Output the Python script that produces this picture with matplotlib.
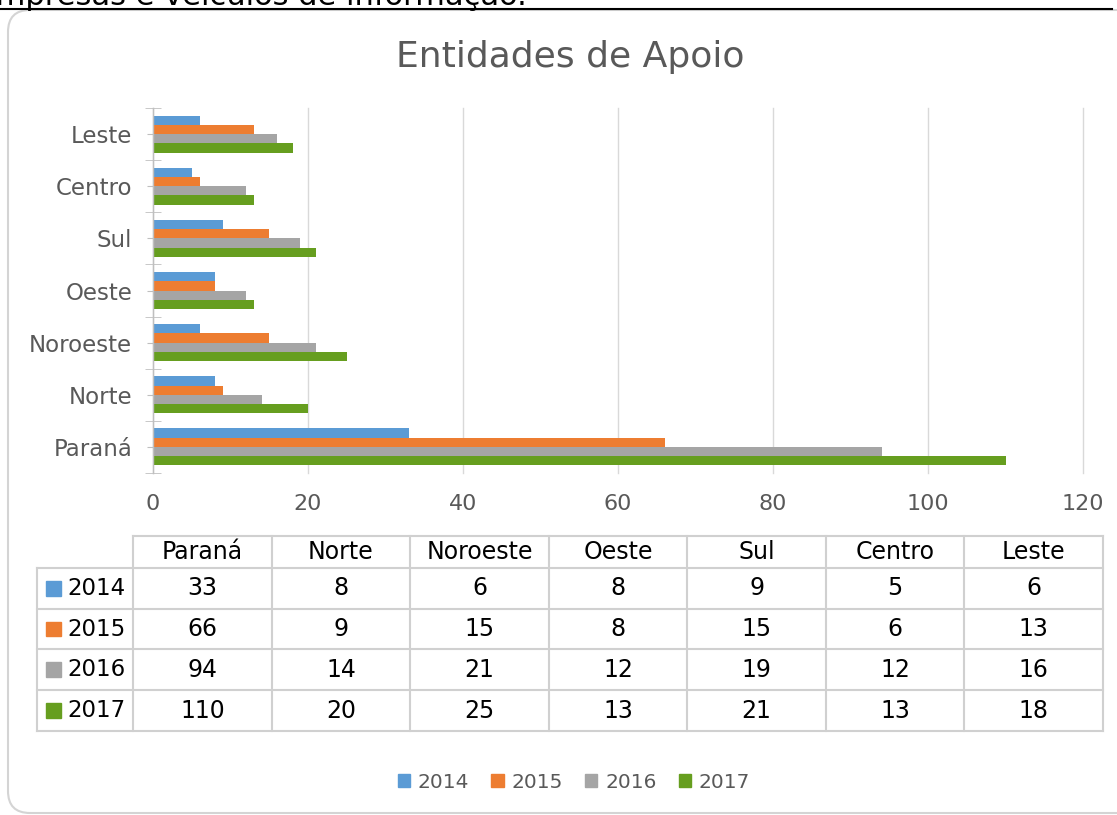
import matplotlib
matplotlib.use("Agg")
import matplotlib.pyplot as plt
from matplotlib.patches import FancyBboxPatch, Patch, Rectangle
from matplotlib.lines import Line2D
from matplotlib.transforms import IdentityTransform
import numpy as np

regions = ["Paraná", "Norte", "Noroeste", "Oeste", "Sul", "Centro", "Leste"]
years = ["2014", "2015", "2016", "2017"]
v2014 = [33, 8, 6, 8, 9, 5, 6]
v2015 = [66, 9, 15, 8, 15, 6, 13]
v2016 = [94, 14, 21, 12, 19, 12, 16]
v2017 = [110, 20, 25, 13, 21, 13, 18]
xticks = [0, 20, 40, 60, 80, 100, 120]

colors = ["#5B9BD5", "#ED7D31", "#A5A5A5", "#669E1F"]
GRAY_TXT = "#595959"
W, H = 1117, 815


def box(x0, y0, x1, y1):
    # pixel box (origin top-left) -> figure fraction rect
    return [x0 / W, 1 - y1 / H, (x1 - x0) / W, (y1 - y0) / H]


plt.rcParams['font.family'] = 'DejaVu Sans'
fig = plt.figure(figsize=(W / 100, H / 100), dpi=100)

# bit of the page text above the chart (cut off at the top, as in the source)
fig.text(527 / W, 1 - 5 / H, "empresas e veículos de informação.", ha="right",
         va="baseline", fontsize=22, color="black")
fig.add_artist(Line2D([0, 1112 / W], [1 - 8.5 / H] * 2, color="black", lw=1.5))

# rounded chart frame (display pixels, origin bottom-left)
frame = FancyBboxPatch((8, H - 813), 1200, 813 - 10,
                       boxstyle="round,pad=0,rounding_size=22",
                       transform=IdentityTransform(), fill=False,
                       ec="#d4d4d4", lw=1.5)
fig.add_artist(frame)

fig.text(570 / W, 1 - 67 / H, "Entidades de Apoio", ha="center", va="baseline",
         fontsize=26, color=GRAY_TXT)

# bar chart
ax = fig.add_axes(box(153, 108, 1083, 473))
y = np.arange(len(regions))
h = 0.178
series = [v2014, v2015, v2016, v2017]
for i, (vals, c, yr) in enumerate(zip(series, colors, years)):
    ax.barh(y + (1.5 - i) * h, vals, height=h, color=c, label=yr)

ax.set_xlim(0, 120)
ax.set_ylim(-0.5, len(regions) - 0.5)
ax.set_xticks(xticks)
ax.set_yticks(y, regions)
ax.set_yticks(np.arange(-0.5, len(regions), 1), minor=True)
ax.grid(axis="x", color="#d9d9d9", lw=1)
for gl in ax.get_xgridlines():
    gl.set_clip_on(False)
ax.set_axisbelow(True)
for s in ["top", "right", "bottom"]:
    ax.spines[s].set_visible(False)
ax.spines["left"].set_color("#bfbfbf")
ax.spines["left"].set_linewidth(1)
ax.tick_params(axis="x", length=0, pad=15, labelsize=16, labelcolor=GRAY_TXT)
ax.tick_params(axis="y", which="major", direction="out", length=4, color="#bfbfbf",
               pad=11, labelsize=16.5, labelcolor=GRAY_TXT)
ax.tick_params(axis="y", which="minor", direction="inout", length=11, color="#bfbfbf")

# data table under the chart
tax = fig.add_axes(box(37, 536, 1103, 731))
lab_w = 96 / 138.5
hdr = -32 / 41
tax.set_xlim(-lab_w, 7)
tax.set_ylim(4, hdr)
tax.axis("off")

lc = "#d0d0d0"
lw = 1.5
tax.plot([0, 7], [hdr, hdr], color=lc, lw=lw, clip_on=False)
for j in range(len(regions) + 1):
    tax.plot([j, j], [hdr, 4], color=lc, lw=lw, clip_on=False)
for r in range(len(years) + 1):
    tax.plot([-lab_w, 7], [r, r], color=lc, lw=lw, clip_on=False)
tax.plot([-lab_w, -lab_w], [0, 4], color=lc, lw=lw, clip_on=False)

for j, name in enumerate(regions):
    tax.text(j + 0.5, hdr / 2, name, ha="center", va="center", fontsize=17, color="black")

for r, (yr, vals, c) in enumerate(zip(years, series, colors)):
    tax.add_patch(Rectangle((-0.628, r + 0.5 - 0.183), 0.108, 0.366, color=c))
    tax.text(-0.477, r + 0.5, yr, ha="left", va="center", fontsize=16.5, color="black")
    for j, v in enumerate(vals):
        tax.text(j + 0.5, r + 0.5, str(v), ha="center", va="center", fontsize=17,
                 color="black")

# legend at the bottom
handles = [Patch(color=c, label=yr) for c, yr in zip(colors, years)]
fig.legend(handles=handles, loc="center", bbox_to_anchor=(574 / W, 1 - 782 / H),
           ncol=4, frameon=False, fontsize=14.5, handlelength=0.6, handleheight=0.6,
           handletextpad=0.4, columnspacing=1.1, labelcolor=GRAY_TXT)

fig.savefig("out.png", dpi=100)
